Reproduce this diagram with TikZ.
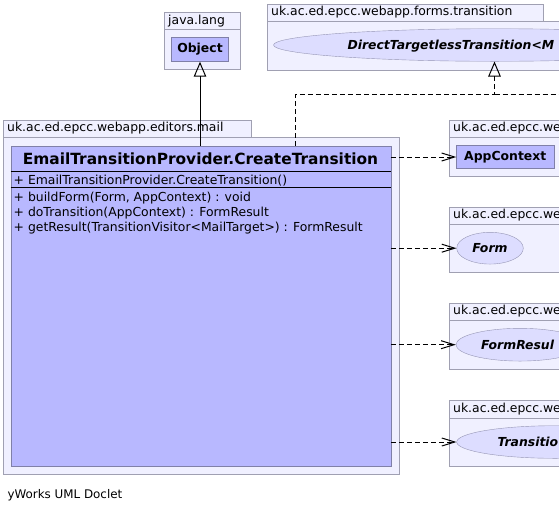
\documentclass[tikz,border=0pt]{standalone}
\usepackage{fontspec}
\setmainfont{DejaVu Sans}[ItalicFont={DejaVu Sans Oblique}, BoldItalicFont={DejaVu Sans Bold Oblique}]
\usepackage{tikz}
\usetikzlibrary{arrows.meta,shapes.geometric}

\definecolor{pkgfill}{RGB}{240,240,255}
\definecolor{pkgline}{RGB}{160,160,178}
\definecolor{clsfill}{RGB}{184,184,255}
\definecolor{clsline}{RGB}{128,128,168}
\definecolor{ifcfill}{RGB}{221,221,255}
\definecolor{ifcline}{RGB}{150,150,180}

\begin{document}
\begin{tikzpicture}[x=1pt, y=-1pt,
    pkgtab/.style={draw=pkgline, fill=pkgfill, anchor=north west, inner xsep=4.5pt, inner ysep=0pt,
      minimum height=17pt, align=left, font=\fontsize{12.4}{14}\selectfont},
    pkgbody/.style={draw=pkgline, fill=pkgfill, anchor=north west, inner sep=0pt},
    classbox/.style={draw=clsline, fill=clsfill, inner sep=0pt, font=\bfseries\fontsize{12.4}{14}\selectfont},
    ifcbox/.style={ellipse, draw=ifcline, fill=ifcfill, inner sep=0pt, font=\bfseries\itshape\fontsize{12.4}{14}\selectfont},
    ifcname/.style={anchor=base west, inner sep=0pt, font=\bfseries\itshape\fontsize{12.4}{14}\selectfont},
    member/.style={anchor=base west, inner sep=0pt, font=\fontsize{12.4}{14}\selectfont},
    dep/.style={draw, line width=1pt, dash pattern=on 5pt off 3pt, -{Straight Barb[length=13pt, width=8pt]}},
    gen/.style={draw, line width=1pt, -{Triangle[open, length=15pt, width=12.5pt]}},
    real/.style={gen, dash pattern=on 5pt off 3pt}]
  \useasboundingbox (0,0) rectangle (559,512);
  \fill[white] (0,0) rectangle (559,512);
  \clip (0,0) rectangle (559,512);
  % Package java.lang
  \node[pkgbody, minimum width=76pt, minimum height=40pt] (langpkg) at (163.5,29) {};
  \node[pkgtab, text width=67pt] (langtab) at (163.5,12) {java.lang};
  \node[classbox, minimum width=57pt, minimum height=24.5pt] (obj) at (200,49.25) {Object};
  % Package forms.transition
  \node[pkgbody, minimum width=340pt, minimum height=49pt] (formspkg) at (266.5,20.5) {};
  \node[pkgtab, text width=267pt] (formstab) at (266.5,3.5) {uk.ac.ed.epcc.webapp.forms.transition};
  \node[ifcbox, minimum width=442pt, minimum height=32.6pt] (dtt) at (494.5,45) {};
  \node[ifcname] (dttname) at (347.3,49.5) {DirectTargetlessTransition<M};
  % Package editors.mail
  \node[pkgbody, minimum width=396pt, minimum height=337.5pt] (mailpkg) at (2.5,136.5) {};
  \node[pkgtab, text width=239pt] (mailtab) at (2.5,119.5) {uk.ac.ed.epcc.webapp.editors.mail};
  \node[classbox, anchor=north west, minimum width=380pt, minimum height=320.5pt] (cls) at (10.5,145.5) {};
  \node[anchor=base, inner sep=0pt, font=\bfseries\fontsize{15.4}{18}\selectfont] (clsname) at (200.5,164.3)
    {EmailTransitionProvider.CreateTransition};
  \draw (cls.west |- 0,171.5) -- (cls.east |- 0,171.5);
  \draw (cls.west |- 0,187.5) -- (cls.east |- 0,187.5);
  \node[member] (ctor) at (13.5,184.5) {+ EmailTransitionProvider.CreateTransition()};
  \node[member] (build) at (13.5,201.5) {+ buildForm(Form, AppContext) : void};
  \node[member] (dotrans) at (13.5,216.5) {+ doTransition(AppContext) : FormResult};
  \node[member] (getres) at (13.5,231.5) {+ getResult(TransitionVisitor<MailTarget>) : FormResult};
  % Packages on the right
  \node[pkgbody, minimum width=160pt, minimum height=39.5pt] (apppkg) at (448.5,136.5) {};
  \node[pkgtab, text width=141pt] (apptab) at (448.5,119.5) {uk.ac.ed.epcc.we};
  \node[classbox, minimum width=97.5pt, minimum height=23pt] (app) at (505.25,157) {AppContext};
  \node[pkgbody, minimum width=160pt, minimum height=47.5pt] (formpkg) at (448.5,224) {};
  \node[pkgtab, text width=141pt, minimum height=17.5pt] (formtab) at (448.5,206.5) {uk.ac.ed.epcc.we};
  \node[ifcbox, minimum width=66.6pt, minimum height=31.7pt] (frm) at (490,248.2) {Form};
  \node[pkgbody, minimum width=160pt, minimum height=49pt] (respkg) at (448.5,320) {};
  \node[pkgtab, text width=141pt, minimum height=17.5pt] (restab) at (448.5,302.5) {uk.ac.ed.epcc.we};
  \node[ifcbox, minimum width=128pt, minimum height=32.7pt] (fres) at (520,344.7) {};
  \node[ifcname] (fresname) at (481,349.2) {FormResul};
  \node[pkgbody, minimum width=160pt, minimum height=48.5pt] (vispkg) at (448.5,417.5) {};
  \node[pkgtab, text width=141pt, minimum height=17.5pt] (vistab) at (448.5,400) {uk.ac.ed.epcc.we};
  \node[ifcbox, minimum width=196.6pt, minimum height=32.6pt] (tvis) at (555,442) {};
  \node[ifcname] (tvisname) at (497.3,446.5) {Transitio};
  % Footer
  \node[anchor=base west, inner sep=0pt, font=\fontsize{11.9}{14}\selectfont] (doclet) at (7.3,498) {yWorks UML Doclet};
  % Generalization and realization
  \draw[gen] (cls.north -| obj) -- (obj);
  \coordinate (bend) at (295.3,94);
  \coordinate (offright) at (600,94);
  \draw[real] (cls.north -| bend) -- (bend) -| (dtt.south);
  \draw[line width=1pt, dash pattern=on 5pt off 3pt] (dtt.south |- bend) -- (offright);
  % Dependencies
  \draw[dep] (cls.east |- app) -- (app);
  \draw[dep] (cls.east |- frm) -- (frm);
  \draw[dep] (cls.east |- fres) -- (fres);
  \draw[dep] (cls.east |- tvis) -- (tvis);
\end{tikzpicture}
\end{document}
